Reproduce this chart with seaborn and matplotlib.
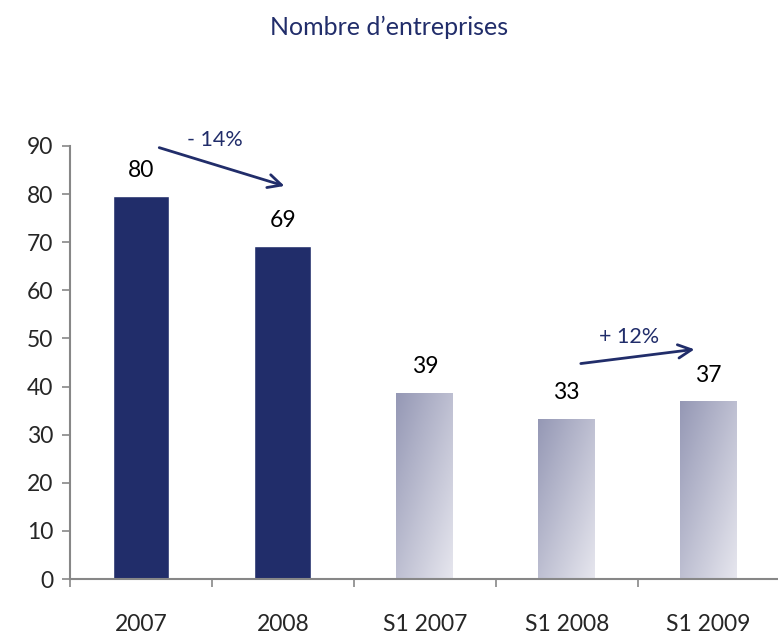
import numpy as np
import pandas as pd
import matplotlib
matplotlib.use("Agg")
import matplotlib.pyplot as plt
import seaborn as sns
from matplotlib.colors import LinearSegmentedColormap

categories = ["2007", "2008", "S1 2007", "S1 2008", "S1 2009"]
values = [79.5, 69.2, 38.7, 33.3, 37.0]
value_labels = ["80", "69", "39", "33", "37"]
yticks = [0, 10, 20, 30, 40, 50, 60, 70, 80, 90]
title = "Nombre d\u2019entreprises"
arrow_labels = ["- 14%", "+ 12%"]

sns.set_theme(style="white")
plt.rcParams["font.family"] = ["Lato", "DejaVu Sans"]

navy = "#212D6A"
grey = "#878787"

df = pd.DataFrame({"cat": categories, "val": values})
fig = plt.figure(figsize=(7.78, 6.37), dpi=100)
ax = fig.add_axes([0.09, 0.091, 0.912, 0.68])
sns.barplot(data=df, x="cat", y="val", ax=ax, color=navy, width=0.4,
            saturation=1, order=categories)

cmap = LinearSegmentedColormap.from_list("g", ["#9598B5", "#E6E6EE"])
gx, gy = np.meshgrid(np.linspace(0, 1, 64), np.linspace(0, 1, 64))
grad = (gx + gy) / 2.0
for i, patch in enumerate(ax.patches):
    if i >= 2:
        x0, y0 = patch.get_x(), patch.get_y()
        w, h = patch.get_width(), patch.get_height()
        patch.set_facecolor("none")
        im = ax.imshow(grad, extent=[x0, x0 + w, y0, y0 + h], origin="upper",
                       cmap=cmap, aspect="auto", zorder=patch.get_zorder())
        im.set_clip_path(patch)
    ax.annotate(value_labels[i], (patch.get_x() + patch.get_width() / 2, patch.get_height()),
                xytext=(0, 11), textcoords="offset points", ha="center", va="bottom",
                fontsize=16.5, color="black")
ax.set_xlim(-0.5, len(categories) - 0.5)
ax.set_ylim(0, 90)

for s in ["top", "right"]:
    ax.spines[s].set_visible(False)
for s in ["left", "bottom"]:
    ax.spines[s].set_color(grey)
    ax.spines[s].set_linewidth(1.5)

ax.set_yticks(yticks)
ax.tick_params(axis="y", which="major", direction="out", length=6, width=1.2,
               color=grey, labelsize=16.5, pad=6, left=True)
ax.set_xticks(range(len(categories)))
ax.set_xticklabels(categories)
ax.set_xticks(np.arange(-0.5, len(categories), 1.0), minor=True)
ax.tick_params(axis="x", which="major", length=0, labelsize=16.5, pad=25)
ax.tick_params(axis="x", which="minor", direction="out", length=6, width=1.2,
               color=grey, bottom=True)
ax.set_xlabel("")
ax.set_ylabel("")

ax.annotate("", xy=(1.03, 81.5), xytext=(0.11, 89.8),
            arrowprops=dict(arrowstyle="->,head_length=0.8,head_width=0.4", color=navy, lw=2),
            annotation_clip=False)
ax.text(0.52, 91.3, arrow_labels[0], ha="center", va="center", fontsize=15.5,
        color=navy, clip_on=False)
ax.annotate("", xy=(3.92, 47.8), xytext=(3.08, 44.7),
            arrowprops=dict(arrowstyle="->,head_length=0.8,head_width=0.4", color=navy, lw=2),
            annotation_clip=False)
ax.text(3.44, 50.3, arrow_labels[1], ha="center", va="center", fontsize=15.5,
        color=navy, clip_on=False)

fig.text(0.5, 0.957, title, ha="center", va="center", fontsize=18, color=navy)

fig.savefig("out.png", dpi=100)
